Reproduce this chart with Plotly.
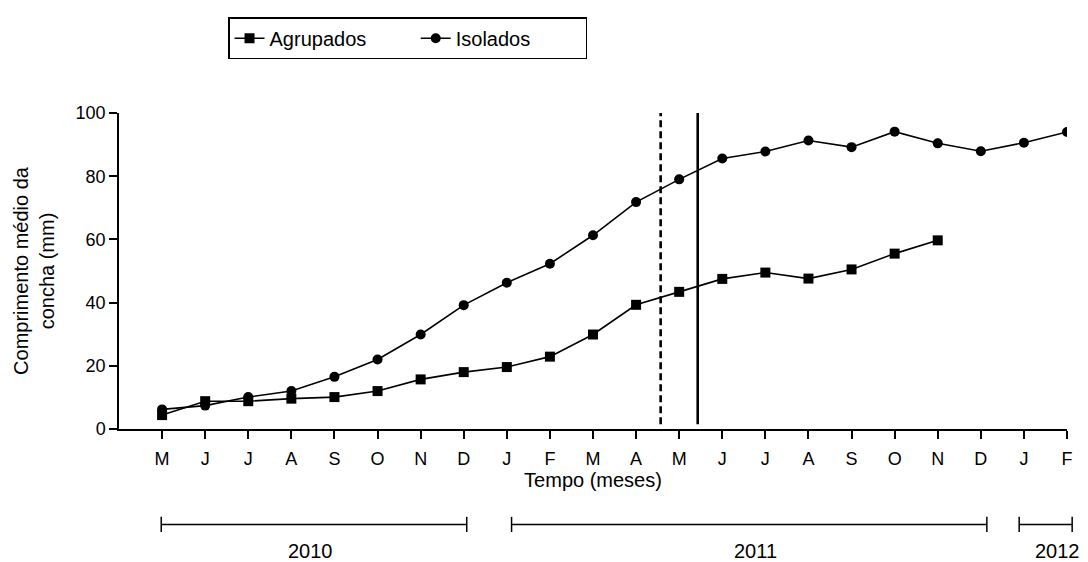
"""Crescimento em comprimento da concha: indivíduos agrupados vs isolados.

Two monthly series (May 2010 - Feb 2012) on a shared month axis, with two
vertical reference lines and year brackets drawn under the month labels.
"""

import plotly.graph_objects as go

MONTHS = ["M", "J", "J", "A", "S", "O", "N", "D",
          "J", "F", "M", "A", "M", "J", "J", "A", "S", "O", "N", "D",
          "J", "F"]

AGRUPADOS = [4.4, 8.8, 8.8, 9.6, 10.1, 12.0, 15.7, 18.0,
             19.6, 22.9, 29.9, 39.3, 43.4, 47.5, 49.5, 47.6, 50.5, 55.5, 59.7]
ISOLADOS = [6.2, 7.4, 10.1, 12.0, 16.5, 22.0, 29.9, 39.2,
            46.3, 52.3, 61.3, 71.8, 79.0, 85.6, 87.8, 91.3, 89.2, 94.1, 90.4,
            87.9, 90.6, 94.0]

Y_TICKS = [0, 20, 40, 60, 80, 100]

# Reference lines, in month-index units.
DASHED_AT = 11.57
SOLID_AT = 12.43

# Year brackets: (label, start, end, label position), in month-index units.
YEARS = [("2010", -0.02, 7.07, 3.45),
         ("2011", 8.11, 19.14, 13.78),
         ("2012", 19.89, 21.12, 20.77)]

X_RANGE = [-1.0, 21.0]
FONT = "Arial, Liberation Sans, sans-serif"
NBSP = "\u00a0"


def _paper_x(v):
    return (v - X_RANGE[0]) / (X_RANGE[1] - X_RANGE[0])


x_idx = list(range(len(MONTHS)))

fig = go.Figure()
# trailing no-break spaces widen the legend entries like the original
fig.add_trace(go.Scatter(
    x=x_idx[:len(AGRUPADOS)], y=AGRUPADOS, name="Agrupados" + NBSP * 8,
    mode="lines+markers",
    line={"color": "black", "width": 1.6},
    marker={"symbol": "square", "size": 10, "color": "black"},
))
fig.add_trace(go.Scatter(
    x=x_idx[:len(ISOLADOS)], y=ISOLADOS, name="Isolados" + NBSP * 9,
    mode="lines+markers",
    line={"color": "black", "width": 1.6},
    marker={"symbol": "circle", "size": 10, "color": "black"},
))

fig.add_shape(type="line", xref="x", yref="y", x0=DASHED_AT, x1=DASHED_AT,
              y0=1.5, y1=100, line={"color": "black", "width": 2.6, "dash": "7px,4px"})
fig.add_shape(type="line", xref="x", yref="y", x0=SOLID_AT, x1=SOLID_AT,
              y0=1.5, y1=100, line={"color": "black", "width": 2.6})

BAR_Y = -0.302
CAP = 0.024
for label, start, end, mid in YEARS:
    x0, x1 = _paper_x(start), _paper_x(end)
    fig.add_shape(type="line", xref="paper", yref="paper", x0=x0, x1=x1,
                  y0=BAR_Y, y1=BAR_Y, line={"color": "black", "width": 1.5})
    for xc in (x0, x1):
        fig.add_shape(type="line", xref="paper", yref="paper", x0=xc, x1=xc,
                      y0=BAR_Y - CAP, y1=BAR_Y + CAP,
                      line={"color": "black", "width": 1.5})
    fig.add_annotation(text=label, xref="paper", yref="paper",
                       x=_paper_x(mid), y=-0.387, showarrow=False,
                       xanchor="center", yanchor="middle",
                       font={"size": 20, "color": "black"})

fig.update_xaxes(
    range=X_RANGE, tickvals=x_idx, ticktext=MONTHS,
    showline=True, linecolor="black", linewidth=1.5,
    ticks="outside", ticklen=8, tickwidth=1.5, tickcolor="black",
    ticklabelstandoff=5,
    showgrid=False, zeroline=False,
    tickfont={"size": 18, "color": "black"},
    title={"text": "Tempo (meses)", "font": {"size": 20, "color": "black"},
           "standoff": 0},
)
fig.update_yaxes(
    range=[0, 100], tickvals=Y_TICKS,
    showline=True, linecolor="black", linewidth=1.5,
    ticks="outside", ticklen=8, tickwidth=1.5, tickcolor="black",
    showgrid=False, zeroline=False,
    tickfont={"size": 18, "color": "black"},
    title={"text": "Comprimento médio da<br>concha (mm)",
           "font": {"size": 20, "color": "black"}, "standoff": 16},
)
# The page body has an 8px margin; size the figure so it fits the window.
fig.update_layout(
    width=1072, height=554,
    margin={"l": 111, "r": 7, "t": 105, "b": 132.5},
    plot_bgcolor="white", paper_bgcolor="white",
    font={"family": FONT, "color": "black"},
    showlegend=True,
    legend={"orientation": "h", "x": 0.115, "y": 1.303, "xanchor": "left",
            "yanchor": "top", "bordercolor": "black", "borderwidth": 1.5,
            "font": {"size": 20, "color": "black"}},
)

fig.write_html("out.html")
